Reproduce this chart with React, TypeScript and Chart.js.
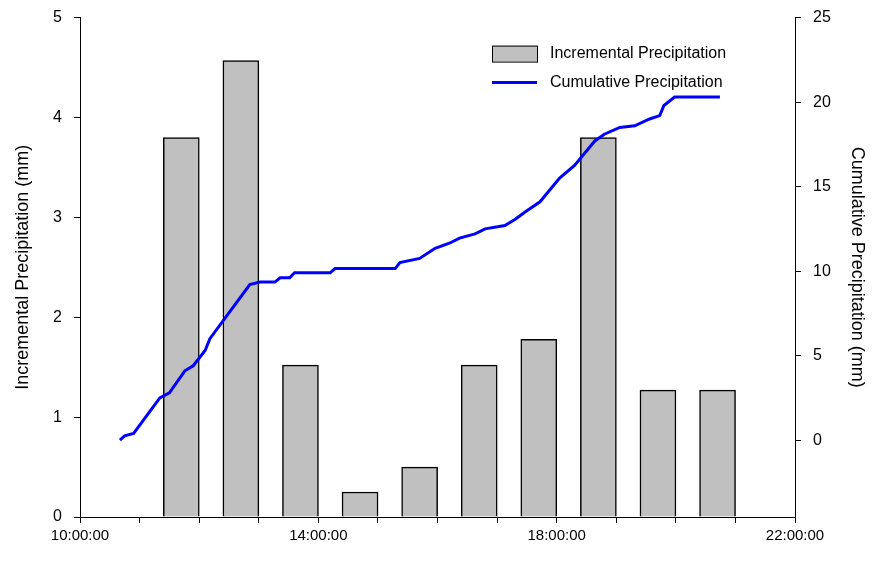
import React, { useEffect, useRef } from "react";
import { Chart, registerables } from "chart.js";
Chart.register(...registerables);

const barHours = [11.7, 12.7, 13.7, 14.7, 15.7, 16.7, 17.7, 18.7, 19.7, 20.7];
const barValues = [3.8, 4.57, 1.52, 0.25, 0.5, 1.52, 1.78, 3.8, 1.27, 1.27];
const cumHours = [10.67, 10.75, 10.9, 11.34, 11.5, 11.76, 11.9, 12.1, 12.18, 12.85, 13.02, 13.27, 13.36, 13.52, 13.6, 14.2, 14.28, 15.29, 15.37, 15.7, 15.96, 16.2, 16.37, 16.63, 16.8, 17.13, 17.3, 17.47, 17.72, 18.05, 18.3, 18.64, 18.8, 19.06, 19.31, 19.56, 19.73, 19.8, 19.98, 20.74];
const cumValues = [0, 0.25, 0.4, 2.5, 2.8, 4.1, 4.4, 5.3, 6.0, 9.2, 9.35, 9.35, 9.6, 9.6, 9.9, 9.9, 10.15, 10.15, 10.5, 10.75, 11.35, 11.65, 11.95, 12.2, 12.5, 12.7, 13.05, 13.5, 14.1, 15.5, 16.25, 17.7, 18.1, 18.5, 18.6, 19.0, 19.2, 19.8, 20.3, 20.3];
const xTickLabels: Record<number, string> = { 10: "10:00:00", 14: "14:00:00", 18: "18:00:00", 22: "22:00:00" };
const legendLabels = ["Incremental Precipitation", "Cumulative Precipitation"];

const FONT = "'Liberation Sans', Arial, sans-serif";

const legendPlugin = {
  id: "insideLegend",
  afterDraw(chart: any) {
    const ctx = chart.ctx;
    const a = chart.chartArea;
    ctx.save();
    ctx.font = `16px ${FONT}`;
    ctx.textBaseline = "middle";
    const x0 = a.right - 303;
    const y1 = a.top + 36, y2 = a.top + 65;
    ctx.fillStyle = "#c0c0c0";
    ctx.strokeStyle = "#000";
    ctx.lineWidth = 1;
    ctx.fillRect(x0, y1 - 8, 45, 16);
    ctx.strokeRect(x0 + 0.5, y1 - 8 + 0.5, 45, 16);
    ctx.strokeStyle = "#0000ff";
    ctx.lineWidth = 3;
    ctx.beginPath();
    ctx.moveTo(x0, y2);
    ctx.lineTo(x0 + 45, y2);
    ctx.stroke();
    ctx.fillStyle = "#000";
    ctx.fillText(legendLabels[0], x0 + 58, y1);
    ctx.fillText(legendLabels[1], x0 + 58, y2);
    ctx.restore();
  },
};

export default function App() {
  const ref = useRef<HTMLCanvasElement>(null);
  useEffect(() => {
    document.body.style.margin = "0";
    document.body.style.overflow = "hidden";
    const chart = new Chart(ref.current!, {
      type: "bar",
      data: {
        datasets: [
          {
            type: "bar",
            data: barHours.map((h, i) => ({ x: h, y: barValues[i] })),
            backgroundColor: "#c0c0c0",
            borderColor: "#000",
            borderWidth: 1.5,
            barThickness: 36,
            yAxisID: "y",
            order: 2,
          } as any,
          {
            type: "line",
            data: cumHours.map((h, i) => ({ x: h, y: cumValues[i] })),
            borderColor: "#0000ff",
            borderWidth: 3,
            pointRadius: 0,
            tension: 0,
            yAxisID: "y2",
            order: 1,
          } as any,
        ],
      },
      options: {
        animation: false,
        responsive: false,
        layout: { padding: { left: 8, right: 10, top: 9, bottom: 12 } },
        plugins: { legend: { display: false }, tooltip: { enabled: false } },
        scales: {
          x: {
            type: "linear",
            offset: false,
            min: 10,
            max: 22,
            afterFit: (s: any) => { s.height = 32; },
            ticks: {
              stepSize: 1,
              autoSkip: false,
              maxRotation: 0,
              color: "#000",
              padding: 4,
              font: { family: FONT, size: 15 },
              callback: (v: any) => xTickLabels[v] ?? "",
            },
            grid: { offset: false, drawOnChartArea: false, color: "#000", tickLength: 6 },
            border: { color: "#000" },
          },
          y: {
            position: "left",
            min: 0,
            max: 5,
            afterFit: (s: any) => { s.width = 72; },
            ticks: { stepSize: 1, color: "#000", padding: 12, font: { family: FONT, size: 16 } },
            grid: { drawOnChartArea: false, color: "#000", tickLength: 6 },
            border: { color: "#000" },
            title: { display: true, text: "Incremental Precipitation (mm)", color: "#000", font: { family: FONT, size: 18 } },
          },
          y2: {
            position: "right",
            min: -4.55,
            max: 25,
            afterFit: (s: any) => { s.width = 77; },
            afterBuildTicks: (s: any) => {
              s.ticks = [0, 5, 10, 15, 20, 25].map((v) => ({ value: v }));
            },
            ticks: { color: "#000", padding: 12, font: { family: FONT, size: 16 } },
            grid: { drawOnChartArea: false, color: "#000", tickLength: 6 },
            border: { color: "#000" },
            title: { display: true, text: "Cumulative Precipitation (mm)", color: "#000", font: { family: FONT, size: 18 } },
          },
        },
      } as any,
      plugins: [legendPlugin],
    });
    return () => chart.destroy();
  }, []);
  return <canvas ref={ref} width={882} height={565} style={{ display: "block", marginTop: "-4px" }} />;
}
